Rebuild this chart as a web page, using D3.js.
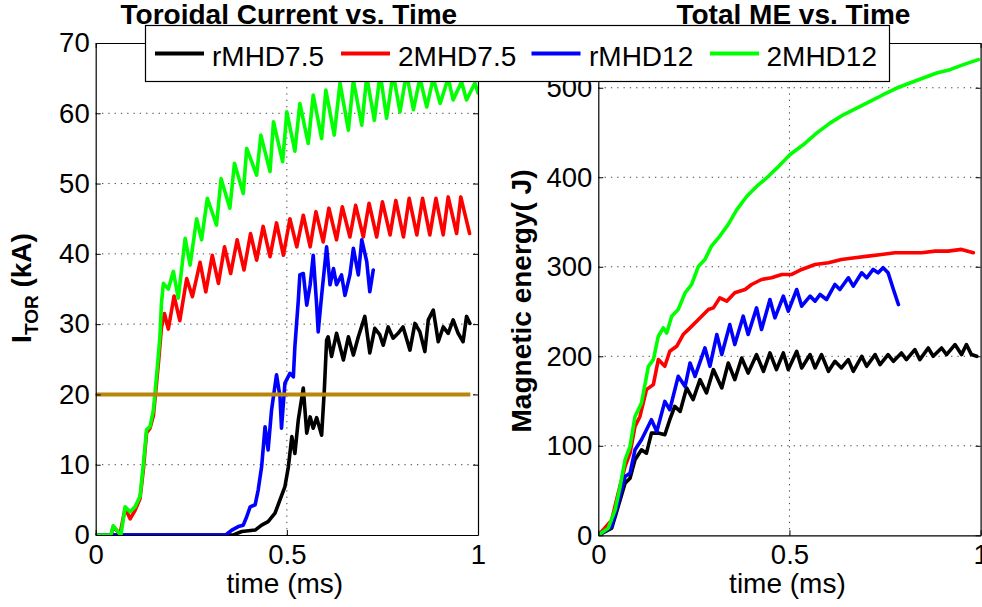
<!DOCTYPE html>
<html>
<head>
<meta charset="utf-8">
<script src="https://cdn.jsdelivr.net/npm/d3@7"></script>
<style>
  body { margin: 0; background: #fff; }
  svg { display: block; font-family: "Liberation Sans", Arial, Helvetica, sans-serif; }
</style>
</head>
<body>
<div id="chart"></div>
<script>
// series names / colours (drawing order = legend order)
var seriesNames = ['rMHD7.5', '2MHD7.5', 'rMHD12', '2MHD12'];
var seriesColors = ['#000000', '#ff0000', '#0000ff', '#00ff00'];

// toroidal current (kA) vs time (ms)
var itorBlack = [[0,0],[0.36,0],[0.382,0.5],[0.417,0.7],[0.434,1.4],[0.451,1.9],[0.469,3.1],[0.482,5.0],[0.495,6.9],[0.504,9.7],[0.513,14.0],[0.521,11.6],[0.53,16.4],[0.543,20.9],[0.552,14.5],[0.561,16.8],[0.569,15.2],[0.578,16.7],[0.591,14.2],[0.598,20.6],[0.604,27.7],[0.608,28.2],[0.617,25.4],[0.63,28.7],[0.648,24.9],[0.661,28.2],[0.674,25.6],[0.687,28.2],[0.704,31.1],[0.717,25.9],[0.73,29.4],[0.743,28.5],[0.752,27.0],[0.765,29.6],[0.778,28.0],[0.791,28.7],[0.804,29.6],[0.822,26.3],[0.835,30.1],[0.848,28.9],[0.861,26.1],[0.87,30.6],[0.883,32.0],[0.896,27.5],[0.909,29.6],[0.922,28.7],[0.935,30.6],[0.948,28.7],[0.961,27.5],[0.97,31.1],[0.979,30.1]];
var itorRed = [[0,0],[0.04,0],[0.046,1.2],[0.059,0.4],[0.063,0],[0.077,3.8],[0.09,2.3],[0.103,3.5],[0.116,5.2],[0.125,9.5],[0.133,14.5],[0.142,15.2],[0.151,17],[0.159,21.5],[0.165,25],[0.172,29.5],[0.18,31.5],[0.19,29.3],[0.205,34],[0.22,30.5],[0.238,36.5],[0.253,33.9],[0.273,38.8],[0.288,34.6],[0.305,39.8],[0.321,35.8],[0.337,41.0],[0.353,37.2],[0.37,42.0],[0.388,37.7],[0.405,42.9],[0.421,39.1],[0.438,43.9],[0.456,39.6],[0.473,44.4],[0.491,39.8],[0.508,45.0],[0.526,41.0],[0.543,45.5],[0.561,41.0],[0.576,46.0],[0.595,41.7],[0.61,46.5],[0.63,42.0],[0.645,46.7],[0.665,42.4],[0.68,46.9],[0.7,42.4],[0.715,47.2],[0.735,42.4],[0.75,47.4],[0.77,42.7],[0.785,47.6],[0.805,42.4],[0.82,47.9],[0.84,42.7],[0.855,47.9],[0.874,42.7],[0.89,47.9],[0.909,42.7],[0.922,48.1],[0.944,42.9],[0.955,48.1],[0.978,42.9]];
var itorBlue = [[0,0],[0.34,0],[0.356,0.7],[0.373,1.2],[0.386,1.4],[0.395,2.6],[0.404,4.0],[0.417,4.3],[0.425,6.4],[0.434,9.7],[0.443,15.4],[0.451,12.1],[0.46,17.8],[0.473,22.8],[0.482,19.7],[0.486,15.2],[0.495,21.6],[0.508,23.0],[0.517,22.5],[0.521,26.8],[0.53,33.4],[0.534,37.0],[0.543,37.2],[0.552,32.7],[0.561,35.6],[0.569,39.8],[0.578,32.7],[0.582,28.9],[0.591,34.1],[0.604,41.0],[0.613,35.6],[0.622,37.9],[0.63,35.6],[0.643,37.0],[0.652,34.1],[0.665,37.0],[0.674,40.8],[0.687,37.0],[0.696,42.0],[0.709,38.9],[0.717,34.6],[0.726,37.7]];
var itorGreen = [[0,0],[0.04,0],[0.046,1.3],[0.059,0.4],[0.066,0],[0.077,4.0],[0.09,3.3],[0.103,4.0],[0.116,5.5],[0.125,10.2],[0.133,15],[0.142,15.4],[0.151,17.8],[0.159,22.5],[0.168,28.2],[0.172,33],[0.177,35.8],[0.19,35.0],[0.203,37.5],[0.216,33.7],[0.234,42.2],[0.247,38.4],[0.264,45.0],[0.277,42.0],[0.292,47.9],[0.316,44.1],[0.328,50.7],[0.351,46.5],[0.363,52.9],[0.386,48.6],[0.395,55.0],[0.421,51.2],[0.432,56.9],[0.456,51.7],[0.465,58.8],[0.489,53.1],[0.5,60.2],[0.521,54.6],[0.534,61.4],[0.556,55.7],[0.569,62.6],[0.591,56.4],[0.602,63.3],[0.624,56.9],[0.639,64.3],[0.661,57.6],[0.674,64.7],[0.696,58.3],[0.709,65.2],[0.729,59.0],[0.744,65.7],[0.761,59.3],[0.778,65.7],[0.796,60.2],[0.813,65.7],[0.831,60.5],[0.848,65],[0.866,60.9],[0.883,65],[0.901,61.4],[0.922,65],[0.935,61.9],[0.957,64.5],[0.97,61.9],[0.992,64.3],[1.0,62.9]];
// reference level on the current plot
var itorRef = [[0,20],[0.98,20]];

// total magnetic energy (J) vs time (ms)
var meBlack = [[0,0],[0.035,8],[0.052,32.1],[0.07,58.2],[0.083,63.8],[0.096,84.3],[0.113,95.5],[0.126,91.8],[0.139,114.2],[0.157,114.2],[0.174,112.3],[0.187,129.1],[0.2,144],[0.214,138.4],[0.231,164.6],[0.248,151.5],[0.266,173.9],[0.283,159],[0.301,185.1],[0.323,164.6],[0.34,192.5],[0.357,173.9],[0.375,198.1],[0.392,181.3],[0.414,201.9],[0.432,183.2],[0.449,203.7],[0.466,185.1],[0.484,203.7],[0.497,185.1],[0.519,205.6],[0.532,187],[0.554,201.9],[0.567,187],[0.584,201.9],[0.602,183.2],[0.619,194.4],[0.636,187],[0.654,196.3],[0.667,183.2],[0.689,200],[0.702,188.8],[0.724,201.9],[0.737,190.7],[0.758,201.9],[0.772,194.4],[0.793,203.7],[0.806,196.3],[0.828,207.5],[0.841,196.3],[0.863,209.3],[0.876,200],[0.898,209.3],[0.911,201.9],[0.933,213.1],[0.95,201.9],[0.963,213.1],[0.976,201.9],[0.99,200]];
var meRed = [[0,0],[0.035,17],[0.052,47],[0.07,76.9],[0.083,91.8],[0.096,121.6],[0.109,132.8],[0.126,162.7],[0.144,168.3],[0.157,196.3],[0.174,188.8],[0.187,205.6],[0.205,211.2],[0.222,224.3],[0.24,231.7],[0.262,241],[0.288,252.2],[0.301,254.1],[0.318,265.3],[0.336,261.6],[0.357,270.9],[0.384,274.6],[0.401,280.2],[0.427,285.8],[0.453,287.7],[0.48,291.4],[0.506,291.4],[0.532,297],[0.567,302.6],[0.602,304.5],[0.636,308.2],[0.671,310.1],[0.706,311.9],[0.741,313.8],[0.776,315.7],[0.811,315.7],[0.846,315.7],[0.881,317.5],[0.915,317.5],[0.95,319.4],[0.981,315.7]];
var meBlue = [[0,0],[0.035,9.7],[0.052,35.8],[0.07,65.7],[0.083,69.4],[0.096,95.5],[0.113,106.7],[0.139,129.1],[0.153,116],[0.174,149.6],[0.187,140.3],[0.209,177.6],[0.227,166.4],[0.24,192.5],[0.253,177.6],[0.279,209.3],[0.292,188.8],[0.31,224.3],[0.323,201.9],[0.344,235.4],[0.357,213.1],[0.379,244.8],[0.392,224.3],[0.414,254.1],[0.427,229.9],[0.449,263.4],[0.462,242.9],[0.484,267.2],[0.497,250.4],[0.519,274.6],[0.532,256],[0.554,267.2],[0.567,261.6],[0.58,269],[0.597,263.4],[0.619,280.2],[0.632,274.6],[0.654,287.7],[0.667,278.4],[0.689,293.3],[0.702,287.7],[0.719,297],[0.732,293.3],[0.745,298.9],[0.758,293.3],[0.772,274.6],[0.785,257.8]];
var meGreen = [[0,0],[0.026,8],[0.044,28.4],[0.057,54.5],[0.07,84.3],[0.083,99.3],[0.096,132.8],[0.113,147.8],[0.131,188.8],[0.144,196.3],[0.157,222.4],[0.17,231.7],[0.179,226],[0.192,244.8],[0.209,252.2],[0.227,270.9],[0.244,280.2],[0.262,300.7],[0.279,308.2],[0.296,323.1],[0.318,334.3],[0.34,347.4],[0.362,363.6],[0.388,378.5],[0.414,389.7],[0.44,399.1],[0.467,410.2],[0.501,425.1],[0.536,436.3],[0.571,449.3],[0.606,460.5],[0.641,469.8],[0.676,477.3],[0.711,484.7],[0.745,492.2],[0.781,499.7],[0.815,505.3],[0.85,510.9],[0.885,516.5],[0.92,520.2],[0.955,525.8],[0.994,531.4]];

// ticks
var timeTicks = [0, 0.5, 1];
var itorTicks = [0, 10, 20, 30, 40, 50, 60, 70];
var meTicks = [0, 100, 200, 300, 400, 500];

var W = 982, H = 607;
var svg = d3.select('#chart').append('svg')
    .attr('width', W)
    .attr('height', H);

svg.append('rect')
    .attr('width', W)
    .attr('height', H)
    .attr('fill', '#fff');

var drawPanel = function(cfg) {
    var x = d3.scaleLinear().domain([0, 1]).range([cfg.x0, cfg.x1]);
    var y = d3.scaleLinear().domain(cfg.yDomain).range([cfg.y1, cfg.y0]);
    var g = svg.append('g');
    var id = 'clip' + cfg.key;

    g.append('clipPath').attr('id', id)
      .append('rect')
        .attr('x', cfg.x0)
        .attr('y', cfg.y0)
        .attr('width', cfg.x1 - cfg.x0)
        .attr('height', cfg.y1 - cfg.y0);

    // dotted grid
    var grid = g.append('g')
        .attr('stroke', '#444')
        .attr('stroke-width', 1)
        .attr('stroke-dasharray', '1.3,5');
    grid.selectAll('line.gy')
        .data(cfg.yTicks.filter(function(v) { return v > cfg.yDomain[0] && v < cfg.yDomain[1]; }))
        .enter().append('line')
        .attr('x1', cfg.x0).attr('x2', cfg.x1)
        .attr('y1', function(d) { return y(d); })
        .attr('y2', function(d) { return y(d); });
    grid.selectAll('line.gx')
        .data(timeTicks.filter(function(v) { return v > 0 && v < 1; }))
        .enter().append('line')
        .attr('y1', cfg.y0).attr('y2', cfg.y1)
        .attr('x1', function(d) { return x(d); })
        .attr('x2', function(d) { return x(d); });

    // data lines
    var line = d3.line()
        .x(function(d) { return x(d[0]); })
        .y(function(d) { return y(d[1]); });
    var lines = g.append('g').attr('clip-path', 'url(#' + id + ')');
    cfg.series.forEach(function(s, i) {
        lines.append('path')
            .datum(s)
            .attr('d', line)
            .attr('fill', 'none')
            .attr('stroke', seriesColors[i])
            .attr('stroke-width', 3.6)
            .attr('stroke-linejoin', 'round')
            .attr('stroke-linecap', 'round');
    });
    if (cfg.ref) {
        lines.append('path')
            .datum(cfg.ref)
            .attr('d', line)
            .attr('fill', 'none')
            .attr('stroke', '#b8860b')
            .attr('stroke-width', 4);
    }

    // axes (inward ticks on all four sides)
    var fontFamily = '"Liberation Sans", Arial, Helvetica, sans-serif';
    var styleAxis = function(sel) {
        sel.attr('font-family', fontFamily).attr('font-size', 27.5);
        sel.selectAll('path.domain').attr('stroke', '#000').attr('stroke-width', 1.2);
        sel.selectAll('.tick line').attr('stroke', '#000').attr('stroke-width', 1);
        sel.selectAll('.tick text').attr('fill', '#000');
    };
    g.append('g')
        .attr('transform', 'translate(0,' + cfg.y1 + ')')
        .call(d3.axisBottom(x).tickValues(timeTicks).tickFormat(d3.format('')).tickSize(-5).tickSizeOuter(0).tickPadding(9))
        .call(styleAxis)
        .selectAll('.tick text').attr('dy', '0.71em');
    g.append('g')
        .attr('transform', 'translate(0,' + cfg.y0 + ')')
        .call(d3.axisTop(x).tickValues(timeTicks).tickFormat('').tickSize(-5).tickSizeOuter(0))
        .call(styleAxis);
    g.append('g')
        .attr('transform', 'translate(' + cfg.x0 + ',0)')
        .call(d3.axisLeft(y).tickValues(cfg.yTicks).tickSize(-5).tickSizeOuter(0).tickPadding(6))
        .call(styleAxis);
    g.append('g')
        .attr('transform', 'translate(' + cfg.x1 + ',0)')
        .call(d3.axisRight(y).tickValues(cfg.yTicks).tickFormat('').tickSize(-5).tickSizeOuter(0))
        .call(styleAxis);

    // title
    g.append('text')
        .attr('x', (cfg.x0 + cfg.x1) / 2 + cfg.titleDx)
        .attr('y', 24)
        .attr('text-anchor', 'middle')
        .attr('font-size', 28)
        .attr('font-weight', 'bold')
        .text(cfg.title);

    // x label
    g.append('text')
        .attr('x', (cfg.x0 + cfg.x1) / 2 - 2)
        .attr('y', 593)
        .attr('text-anchor', 'middle')
        .attr('font-size', 28)
        .text('time (ms)');

    // y label
    var yl = g.append('text')
        .attr('transform', 'translate(' + cfg.ylabelX + ',' + cfg.ylabelY + ') rotate(-90)')
        .attr('text-anchor', 'middle')
        .attr('font-size', 28)
        .attr('font-weight', 'bold');
    cfg.ylabel(yl);
};

// Toroidal current panel
drawPanel({
    key: 'L',
    x0: 95.7, x1: 478, y0: 43, y1: 535,
    yDomain: [0, 70],
    yTicks: itorTicks,
    series: [itorBlack, itorRed, itorBlue, itorGreen],
    ref: itorRef,
    title: 'Toroidal Current vs. Time',
    titleDx: 2,
    ylabelX: 31, ylabelY: 288,
    ylabel: function(t) {
        t.append('tspan').text('I');
        t.append('tspan').attr('font-size', 19).attr('dy', 7).text('TOR');
        t.append('tspan').attr('dy', -7).text(' (kA)');
    }
});

// Magnetic energy panel
drawPanel({
    key: 'R',
    x0: 598.3, x1: 980.6, y0: 43, y1: 535.3,
    yDomain: [0, 550],
    yTicks: meTicks,
    series: [meBlack, meRed, meBlue, meGreen],
    ref: null,
    title: 'Total ME vs. Time',
    titleDx: 4,
    ylabelX: 531, ylabelY: 301,
    ylabel: function(t) {
        t.text('Magnetic energy( J)');
    }
});

// legend box on top of both panels
var legend = svg.append('g');
legend.append('rect')
    .attr('x', 145.5).attr('y', 25.5)
    .attr('width', 744).attr('height', 56)
    .attr('fill', '#fff')
    .attr('stroke', '#000')
    .attr('stroke-width', 1.2);
var legendLineX = [155, 341, 531.5, 710];
var legendTextX = [212, 398, 589, 766.5];
seriesNames.forEach(function(name, i) {
    legend.append('line')
        .attr('x1', legendLineX[i]).attr('x2', legendLineX[i] + 49)
        .attr('y1', 53.5).attr('y2', 53.5)
        .attr('stroke', seriesColors[i])
        .attr('stroke-width', 4);
    legend.append('text')
        .attr('x', legendTextX[i])
        .attr('y', 66)
        .attr('font-size', 28)
        .text(name);
});
</script>
</body>
</html>
